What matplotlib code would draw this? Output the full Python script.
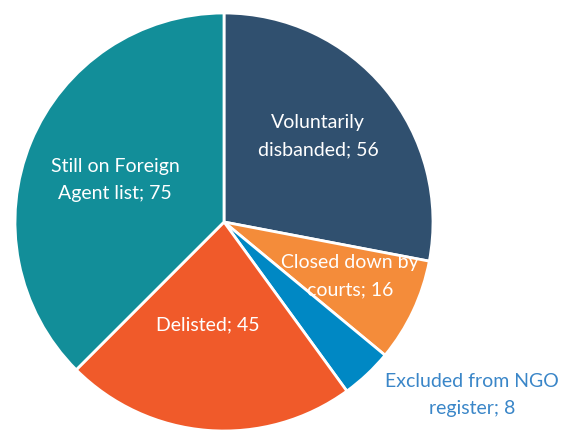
import matplotlib
matplotlib.use("Agg")
import matplotlib.pyplot as plt

# data
categories = ["Voluntarily\ndisbanded", "Closed down by\ncourts", "Excluded from NGO\nregister",
              "Delisted", "Still on Foreign\nAgent list"]
values = [56, 16, 8, 45, 75]
colors = ["#30506F", "#F48C3A", "#0088C4", "#F05A2A", "#128E99"]

plt.rcParams['font.family'] = ['Lato', 'DejaVu Sans']

fig = plt.figure(figsize=(5.68, 4.30), dpi=100)
ax = fig.add_axes([0, 0, 1, 1])

wedges, _ = ax.pie(values, colors=colors, startangle=90, counterclock=False,
                   center=(224, 208), radius=209,
                   wedgeprops=dict(edgecolor='white', linewidth=2))
# axes in pixel units (pie resets the limits, so set them afterwards)
ax.set_xlim(0, 568)
ax.set_ylim(0, 430)
ax.set_aspect('equal')
ax.axis('off')

# label positions in pixels (x, y from top), text colour
label_pos = [(318, 136, 'white'), (350, 276, 'white'), (472, 395, '#3A86C8'),
             (208, 325, 'white'), (115, 180, 'white')]
for cat, v, (x, y, c) in zip(categories, values, label_pos):
    ax.text(x, 430 - y, f"{cat}; {v}", ha='center', va='center', color=c,
            fontsize=14, linespacing=1.7)

fig.savefig("out.png", dpi=100)
